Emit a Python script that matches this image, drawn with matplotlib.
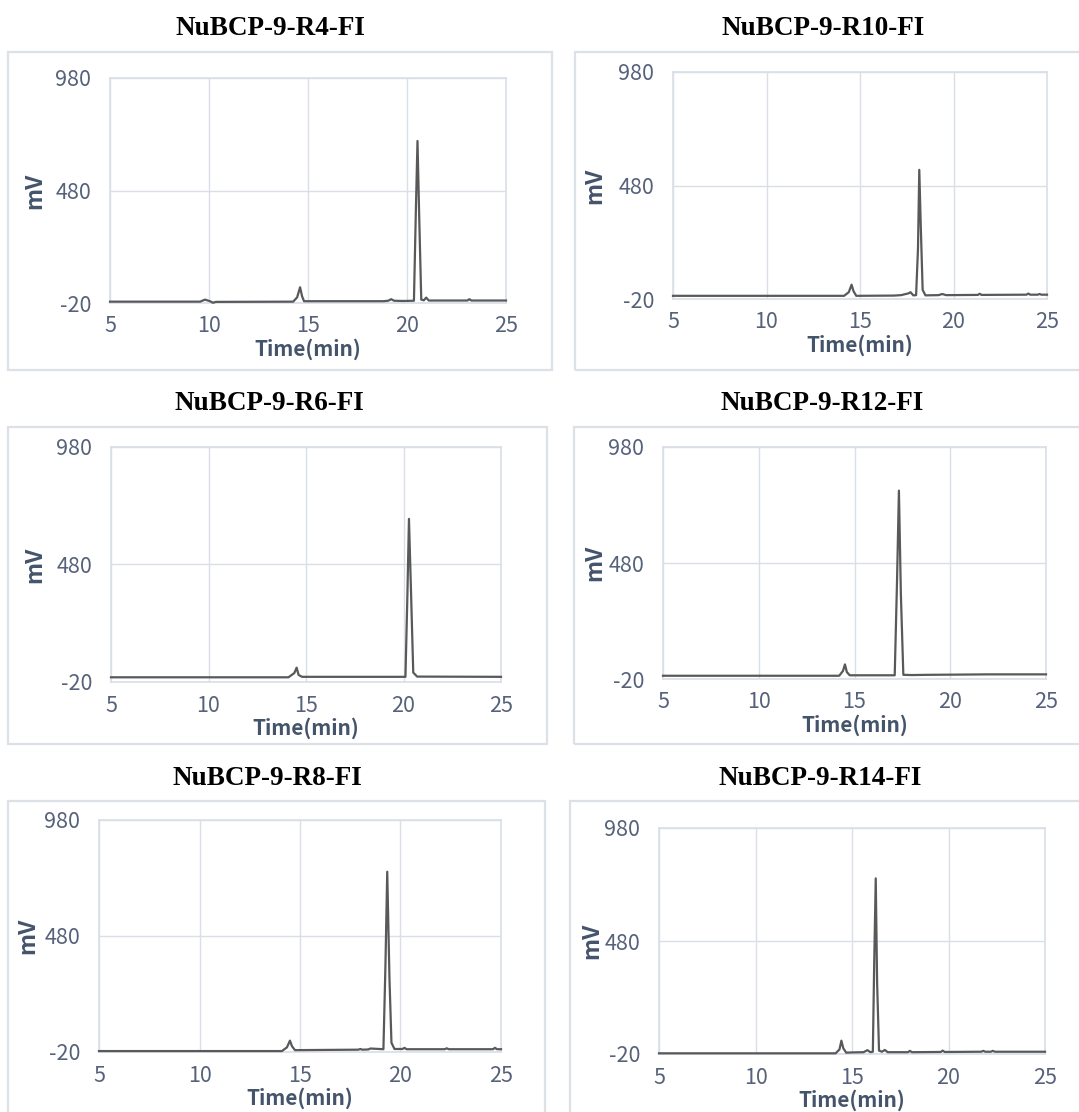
import matplotlib
matplotlib.use("Agg")
import matplotlib.pyplot as plt
from matplotlib.patches import Rectangle

plt.rcParams["axes.unicode_minus"] = False

# ---------------- data ----------------
titles = ["NuBCP-9-R4-FI", "NuBCP-9-R10-FI", "NuBCP-9-R6-FI",
          "NuBCP-9-R12-FI", "NuBCP-9-R8-FI", "NuBCP-9-R14-FI"]

x_ticks = [5, 10, 15, 20, 25]
y_ticks = [-20, 480, 980]

r4_t = [5, 9.55, 9.8, 10.05, 10.2, 10.35, 14.25, 14.45, 14.6, 14.7, 14.8, 18.8, 19.05, 19.2, 19.35,
        19.8, 20.35, 20.45, 20.53, 20.62, 20.72, 20.85, 20.97, 21.1, 23.05, 23.15, 23.25, 25]
r4_v = [-14, -14, -5, -12, -19, -15, -14, 5, 50, 10, -12, -12, -10, -3, -10,
        -11, -10, 400, 700, 350, -5, -8, 4, -9, -9, -3, -9, -9]

r10_t = [5, 14.15, 14.4, 14.55, 14.65, 14.8, 16.8, 17.2, 17.6, 17.7, 17.85, 18.0, 18.1, 18.17, 18.25,
         18.35, 18.5, 19.2, 19.4, 19.6, 21.3, 21.4, 21.5, 23.9, 24.0, 24.1, 24.5, 24.6, 24.7, 25]
r10_v = [-6, -6, 10, 43, 15, -6, -5, -3, 5, 10, -4, -3, 200, 549, 300,
         20, -4, -3, 2, -3, -2, 3, -2, -1, 4, -1, -1, 2, -1, -1]

r6_t = [5, 14.1, 14.4, 14.52, 14.62, 14.8, 20.1, 20.2, 20.28, 20.38, 20.5, 20.7, 25]
r6_v = [0, 0, 18, 41, 10, 2, 2, 350, 674, 380, 20, 3, 2]

r12_t = [5, 14.2, 14.4, 14.5, 14.6, 14.75, 17.1, 17.22, 17.32, 17.42, 17.55, 18.0, 18.8, 20.5, 22.0, 25]
r12_v = [-6, -6, 15, 43, 10, -4, -4, 400, 792, 350, -2, -3, -2, -1, 0, 0]

r8_t = [5, 14.1, 14.35, 14.5, 14.6, 14.75, 17.9, 18.0, 18.1, 18.4, 18.5, 19.15, 19.25, 19.34, 19.45,
        19.55, 19.7, 20.1, 20.2, 20.3, 22.2, 22.3, 22.4, 24.6, 24.7, 24.8, 25]
r8_v = [-16, -16, 0, 29, 5, -12, -10, -7, -10, -9, -5, -8, 350, 757, 300,
        20, -7, -7, -2, -8, -8, -4, -8, -8, -2, -8, -8]

r14_t = [5, 14.15, 14.35, 14.45, 14.55, 14.7, 15.0, 15.6, 15.8, 15.95, 16.08, 16.15, 16.23, 16.3, 16.4,
         16.55, 16.7, 16.85, 17.9, 18.0, 18.1, 19.6, 19.7, 19.8, 21.7, 21.8, 21.9, 22.2, 22.3, 22.4, 25]
r14_v = [-17, -17, 0, 39, 5, -14, -13, -12, -3, -12, -10, 380, 757, 300, -5,
         -10, -2, -12, -12, -6, -12, -11, -5, -11, -10, -6, -10, -10, -6, -10, -10]

series = [(r4_t, r4_v), (r10_t, r10_v), (r6_t, r6_v),
          (r12_t, r12_v), (r8_t, r8_v), (r14_t, r14_v)]

# ---------------- layout (pixels) ----------------
W, H = 1079, 1112
axes_px = [(110, 78, 506, 303), (673, 72, 1047, 299),
           (111, 447, 501, 682), (663, 447, 1046, 679),
           (99, 820, 501, 1052), (659, 828, 1045, 1054)]
title_px = [(270, 35), (823, 35), (269, 410.5), (822, 410.5), (267, 785), (820, 785)]
ylabel_off = [75, 78, 76, 68, 71, 67]
xlabel_off = 46
boxes_px = [(8, 52, 552, 370), (575, 52, 1090, 370),
            (8, 427, 547, 744), (574, 427, 1090, 744),
            (8, 801, 545, 1120), (570, 801, 1090, 1120)]

grid_c = "#D9DEE7"
tick_c = "#56617A"
lab_c = "#44546A"
line_c = "#595959"
box_c = "#DCE1E8"
fam = ["Noto Sans CJK SC", "DejaVu Sans"]

fig = plt.figure(figsize=(W / 100, H / 100), dpi=100)
fig.patch.set_facecolor("white")

for (l, t, r, b) in boxes_px:
    fig.patches.append(Rectangle((l / W, 1 - b / H), (r - l) / W, (b - t) / H,
                                 transform=fig.transFigure, fill=False,
                                 edgecolor=box_c, linewidth=1.6, zorder=0))

for i, ((l, t, r, b), (tx, ty), (xs, ys)) in enumerate(zip(axes_px, title_px, series)):
    ax = fig.add_axes([l / W, 1 - b / H, (r - l) / W, (b - t) / H])
    ax.plot(xs, ys, color=line_c, linewidth=1.6, zorder=3, clip_on=False,
            solid_joinstyle="round")
    ax.set_xlim(5, 25)
    ax.set_ylim(-20, 980)
    ax.set_xticks(x_ticks)
    ax.set_yticks(y_ticks)
    ax.grid(True, color=grid_c, linewidth=1.0)
    ax.set_axisbelow(True)
    for s in ax.spines.values():
        s.set_color(grid_c)
        s.set_linewidth(1.2)
    ax.tick_params(length=0, labelsize=15.5, labelcolor=tick_c)
    ax.tick_params(axis="y", pad=13.5)
    ax.tick_params(axis="x", pad=9)
    for lab in ax.get_xticklabels() + ax.get_yticklabels():
        lab.set_fontfamily(fam)
        lab.set_fontweight("light")
    ax.set_xlabel("Time(min)", fontsize=15, fontweight="bold", color=lab_c, family=fam)
    ax.set_ylabel("mV", fontsize=16.5, fontweight="bold", color=lab_c, family=fam)
    ax.xaxis.set_label_coords(0.5, -xlabel_off / (b - t))
    ax.yaxis.set_label_coords(-ylabel_off[i] / (r - l), 0.5)
    ax.xaxis.label.set_va("center")
    ax.yaxis.label.set_va("center")
    fig.text(tx / W, 1 - ty / H, titles[i], ha="center", va="baseline",
             fontsize=19.5, fontweight="bold", family="Liberation Serif", color="black")

fig.savefig("out.png", dpi=100, facecolor="white")
